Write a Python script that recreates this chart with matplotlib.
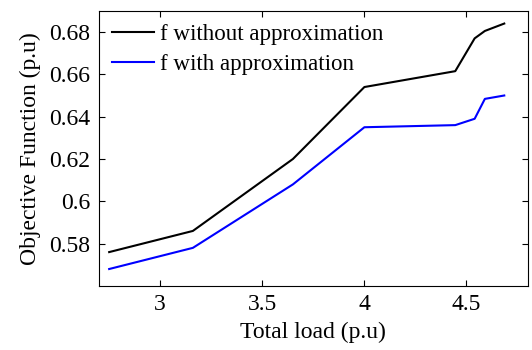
import numpy as np
import matplotlib.pyplot as plt

# donnees
charge = [2.75, 3.16, 3.65, 4.0, 4.445, 4.54, 4.59, 4.685]
f_sans = [0.576, 0.586, 0.620, 0.654, 0.6615, 0.677, 0.6805, 0.684]
f_avec = [0.568, 0.578, 0.608, 0.635, 0.636, 0.639, 0.6484, 0.650]

plt.rcParams['font.family'] = ['Liberation Serif', 'DejaVu Serif']
plt.rcParams['font.size'] = 17

fig = plt.figure(figsize=(5.32, 3.5), dpi=100)
ax = fig.add_axes([0.186, 0.183, 0.806, 0.786])

ax.plot(charge, f_sans, color='k', lw=1.5, label='f without approximation')
ax.plot(charge, f_avec, color='#0000ff', lw=1.5, label='f with approximation')

ax.set_xlim(2.7, 4.8)
ax.set_ylim(0.56, 0.69)
ax.set_xticks([3, 3.5, 4, 4.5])
ax.set_xticklabels(['3', '3.5', '4', '4.5'])
ax.set_yticks([0.58, 0.6, 0.62, 0.64, 0.66, 0.68])
ax.set_yticklabels(['0.58', '0.6', '0.62', '0.64', '0.66', '0.68'])
ax.tick_params(direction='in', top=True, right=True, length=4, width=0.8, pad=6)
for s in ax.spines.values():
    s.set_linewidth(0.8)

ax.set_xlabel('Total load (p.u)', labelpad=5)
ax.set_ylabel('Objective Function (p.u)', labelpad=6)
ax.legend(loc='upper left', frameon=False, fontsize=16.6, handlelength=1.85,
          borderaxespad=0.15, handletextpad=0.25, labelspacing=0.4)

fig.savefig('out.png', dpi=100)
